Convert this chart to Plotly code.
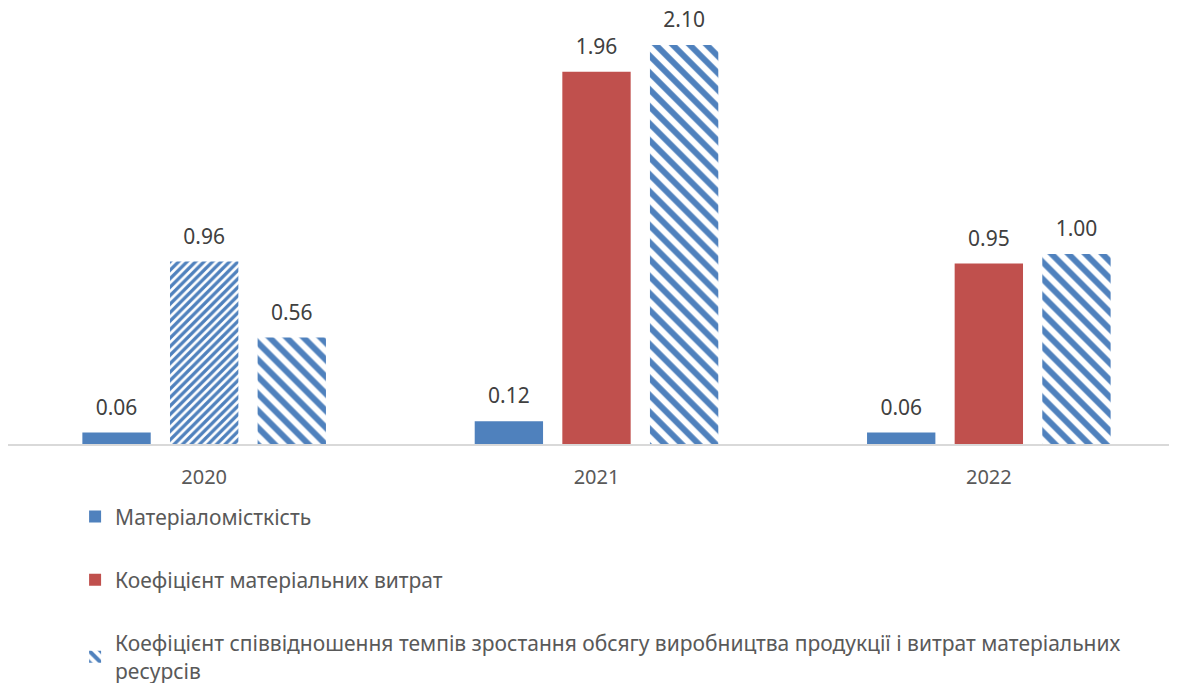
import plotly.graph_objects as go

years = ["2020", "2021", "2022"]
material_intensity = [0.06, 0.12, 0.06]
material_cost_coef = [0.96, 1.96, 0.95]
growth_ratio_coef = [0.56, 2.10, 1.00]

names = [
    "Матеріаломісткість",
    "Коефіцієнт матеріальних витрат",
    "Коефіцієнт співвідношення темпів зростання обсягу виробництва продукції і витрат матеріальних<br>ресурсів",
]

BLUE = "#4F81BD"
RED = "#C0504D"
TXT = "#595959"
LBL = "#404040"
FONT = "Noto Sans"
LABEL_TPL = "<span style='font-size:21px'>%{y:.2f}</span><br> "
LABEL_FONT = dict(size=9, color=LBL, family=FONT)

fig = go.Figure()

fig.add_trace(go.Bar(
    x=years, y=material_intensity, name=names[0], offsetgroup="a",
    legendgroup="a", marker=dict(color=BLUE, line=dict(width=0)),
    texttemplate=LABEL_TPL, textposition="outside",
    textfont=LABEL_FONT, cliponaxis=False,
))

# 2020 value of second series drawn hatched (as in the reference)
fig.add_trace(go.Bar(
    x=years[:1], y=material_cost_coef[:1], name=names[1], offsetgroup="b",
    legendgroup="b", showlegend=False,
    marker=dict(color=BLUE, line=dict(width=0),
                pattern=dict(shape="/", size=6, solidity=0.55, fgcolor=BLUE,
                             bgcolor="white", fgopacity=1)),
    texttemplate=LABEL_TPL, textposition="outside",
    textfont=LABEL_FONT, cliponaxis=False,
))
fig.add_trace(go.Bar(
    x=years[1:], y=material_cost_coef[1:], name=names[1], offsetgroup="b",
    legendgroup="b", marker=dict(color=RED, line=dict(width=0)),
    texttemplate=LABEL_TPL, textposition="outside",
    textfont=LABEL_FONT, cliponaxis=False,
))

fig.add_trace(go.Bar(
    x=years, y=growth_ratio_coef, name=names[2], offsetgroup="c",
    legendgroup="c",
    marker=dict(color=BLUE, line=dict(width=0),
                pattern=dict(shape="\\", size=12, solidity=0.5, fgcolor=BLUE,
                             bgcolor="white", fgopacity=1)),
    texttemplate=LABEL_TPL, textposition="outside",
    textfont=LABEL_FONT, cliponaxis=False,
))

fig.update_layout(
    width=1177, height=683,
    margin=dict(l=0, r=0, t=0, b=247, autoexpand=False),
    paper_bgcolor="white", plot_bgcolor="white",
    barmode="group", bargap=0.33, bargroupgap=0.22,
    font=dict(family=FONT, size=20, color=TXT),
    showlegend=True,
    legend=dict(
        x=0.057, xanchor="left", y=-0.12, yanchor="top",
        orientation="v", tracegroupgap=33,
        font=dict(size=21, color=TXT, family=FONT),
        itemsizing="constant", traceorder="grouped",
    ),
    xaxis=dict(
        showgrid=False, showline=True, linecolor="#D9D9D9", linewidth=1.5,
        ticks="outside", ticklen=14, tickcolor="rgba(0,0,0,0)",
        tickfont=dict(size=20, color=TXT, family=FONT),
    ),
    yaxis=dict(range=[0, 2.295], visible=False, showgrid=False, zeroline=False),
)

fig.write_html("out.html")
